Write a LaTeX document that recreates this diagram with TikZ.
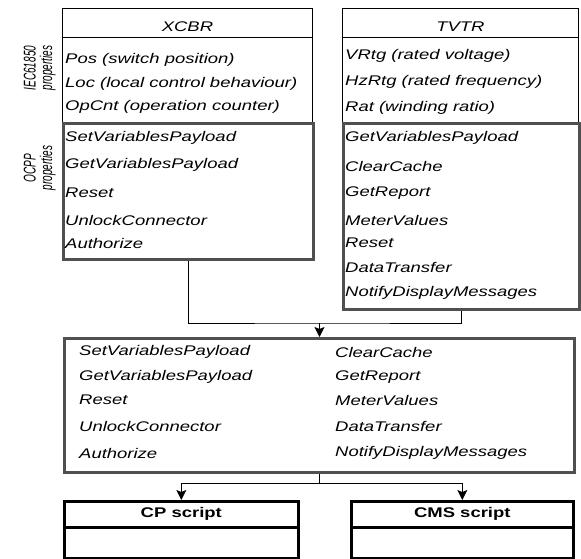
\documentclass[tikz,border=0pt]{standalone}
\usepackage{fontspec}
\setmainfont{Liberation Sans}[FakeStretch=1.32]
\newfontfamily\sidefont{Liberation Sans}
\usetikzlibrary{
  arrows.meta,
  positioning
}
\definecolor{ocppgray}{HTML}{505050}
\newcommand{\sidetext}[1]{\scalebox{1}[1.7]{\begin{tabular}{@{}c@{}}#1\end{tabular}}}

\begin{document}
\begin{tikzpicture}[
  x=1pt, y=-1pt,
  thinbox/.style={draw, line width=0.9pt, anchor=north west, inner sep=0pt,
    font=\fontsize{14}{16}\selectfont\itshape},
  headbox/.style={thinbox, text height=17pt, text depth=0pt},
  gbox/.style={draw=ocppgray, line width=3pt, anchor=north west, inner sep=0pt},
  sbox/.style={draw, line width=2.6pt, anchor=north west, inner sep=0pt,
    font=\fontsize{14}{16}\selectfont\bfseries},
  row/.style={anchor=west, inner sep=0pt, font=\fontsize{14}{16}\selectfont\itshape},
  side/.style={rotate=90, inner sep=0pt,
    font=\sidefont\fontsize{10}{8}\selectfont\itshape},
  conn/.style={line width=1pt},
  tip/.style={-{Stealth[length=10pt, width=10pt, inset=2pt]}},
]
  \useasboundingbox (0,0) rectangle (581,559);

  % Logical node XCBR
  \node[headbox, minimum width=250pt, minimum height=29pt] (xcbr) at (62,8) {XCBR};
  \node[thinbox, minimum width=250pt, minimum height=85pt] (xiec) at (62,37) {};
  \node[gbox, minimum width=250pt, minimum height=136pt] (xocpp) at (62,122) {};

  % Logical node TVTR
  \node[headbox, minimum width=236pt, minimum height=29pt] (tvtr) at (342,8) {TVTR};
  \node[thinbox, minimum width=236pt, minimum height=85pt] (tiec) at (342,37) {};
  \node[gbox, minimum width=236pt, minimum height=186pt] (tocpp) at (342,122) {};

  % Side labels
  \node[side] (iecl) at (40,68) {\sidetext{IEC61850\\properties}};
  \node[side] (ocppl) at (40,168) {\sidetext{OCPP\\properties}};

  % XCBR rows
  \node[row] at (65,60) {Pos (switch position)};
  \node[row] at (65,84) {Loc (local control behaviour)};
  \node[row] at (65,107) {OpCnt (operation counter)};
  \node[row] at (65,138) {SetVariablesPayload};
  \node[row] at (65,165) {GetVariablesPayload};
  \node[row] at (65,193) {Reset};
  \node[row] at (65,220) {UnlockConnector};
  \node[row] at (65,243) {Authorize};

  % TVTR rows
  \node[row] at (345,56) {VRtg (rated voltage)};
  \node[row] at (345,82) {HzRtg (rated frequency)};
  \node[row] at (345,108) {Rat (winding ratio)};
  \node[row] at (345,138) {GetVariablesPayload};
  \node[row] at (345,166) {ClearCache};
  \node[row] at (345,193) {GetReport};
  \node[row] at (345,220) {MeterValues};
  \node[row] at (345,243) {Reset};
  \node[row] at (345,267) {DataTransfer};
  \node[row] at (345,293) {NotifyDisplayMessages};

  % Merged message set
  \node[gbox, minimum width=510pt, minimum height=134pt] (merged) at (63,337) {};
  \node[row] at (79,352) {SetVariablesPayload};
  \node[row] at (79,377) {GetVariablesPayload};
  \node[row] at (79,400) {Reset};
  \node[row] at (79,426) {UnlockConnector};
  \node[row] at (79,453) {Authorize};
  \node[row] at (335,352) {ClearCache};
  \node[row] at (335,377) {GetReport};
  \node[row] at (335,400) {MeterValues};
  \node[row] at (335,426) {DataTransfer};
  \node[row] at (335,453) {NotifyDisplayMessages};

  % Scripts
  \node[sbox, minimum width=234pt, minimum height=26pt] (cp) at (63,500) {CP script};
  \node[sbox, minimum width=234pt, minimum height=31pt] (cpbody) at (63,526) {};
  \node[sbox, minimum width=222pt, minimum height=26pt] (cms) at (350,500) {CMS script};
  \node[sbox, minimum width=222pt, minimum height=31pt] (cmsbody) at (350,526) {};

  % Connectors
  \coordinate (join) at (merged.north |- 0,323);
  \coordinate (split) at (merged.south |- 0,483);
  \draw[conn] (xocpp.south) |- (join) -| (tocpp.south);
  \draw[conn, tip] (join) -- (merged.north);
  \draw[conn] (merged.south) -- (split);
  \draw[conn, tip] (split) -| (cp.north);
  \draw[conn, tip] (split) -| (cms.north);
\end{tikzpicture}
\end{document}
